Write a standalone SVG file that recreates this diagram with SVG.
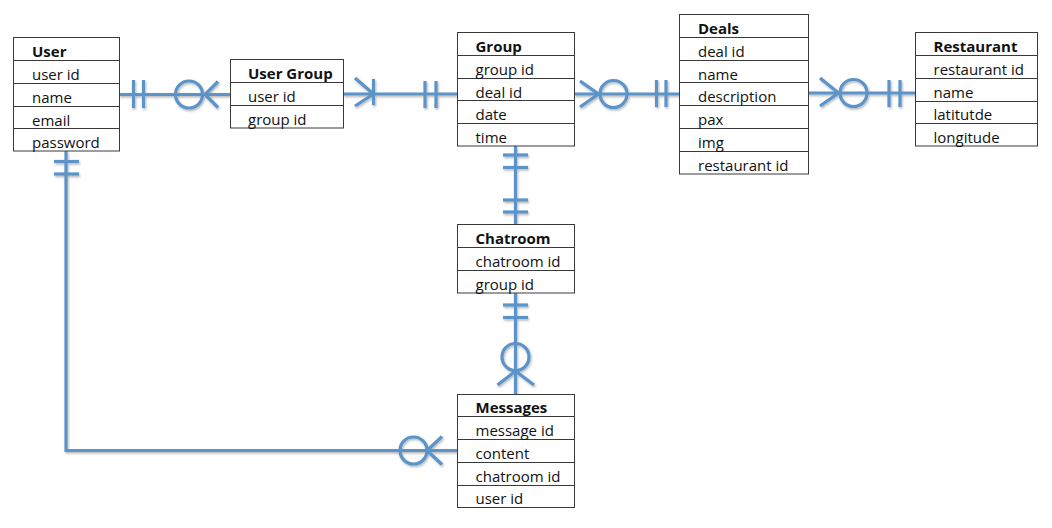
<svg xmlns="http://www.w3.org/2000/svg" width="1052" height="528" viewBox="0 0 1052 528">
<defs>
<style>
.tb rect{fill:#fff;stroke:#3a3a3a;stroke-width:1}
.tb line{stroke:#3a3a3a;stroke-width:1}
.tb text{font-family:"Open Sans","Liberation Sans",sans-serif;font-size:15px;fill:#111}
.tb text.h{font-weight:bold}
.cn line,.cn polyline,.cn circle{stroke:#5b94c9;stroke-width:3.2;fill:none;stroke-linecap:butt}
.cn circle{fill:none}
</style>
<filter id="sh" x="-10%" y="-10%" width="120%" height="120%">
<feDropShadow dx="1" dy="1.5" stdDeviation="1" flood-color="#000" flood-opacity="0.3"/>
</filter>
</defs>
<rect width="1052" height="528" fill="#fff"/>

<g id="connectors" class="cn" filter="url(#sh)">
<!-- User - User Group -->
<line x1="119" y1="94.5" x2="230" y2="94.5"/>
<line x1="133.5" y1="80" x2="133.5" y2="108"/>
<line x1="143.5" y1="80" x2="143.5" y2="108"/>
<circle cx="189" cy="94.5" r="13.5" fill="#fff"/>
<line x1="205" y1="94.5" x2="218" y2="81.5"/>
<line x1="205" y1="94.5" x2="218" y2="107.5"/>
<!-- User Group - Group -->
<line x1="343" y1="94" x2="457" y2="94"/>
<line x1="355" y1="78" x2="373.5" y2="94"/>
<line x1="355" y1="106" x2="373.5" y2="94"/>
<line x1="373.5" y1="79" x2="373.5" y2="105"/>
<line x1="425" y1="81" x2="425" y2="108"/>
<line x1="436" y1="81" x2="436" y2="108"/>
<!-- Group - Deals -->
<line x1="574" y1="94" x2="679" y2="94"/>
<line x1="580" y1="81" x2="598.5" y2="94"/>
<line x1="580" y1="107" x2="598.5" y2="94"/>
<circle cx="613.5" cy="94" r="13.5"/>
<line x1="656.5" y1="80" x2="656.5" y2="107"/>
<line x1="666" y1="80" x2="666" y2="107"/>
<!-- Deals - Restaurant -->
<line x1="808" y1="93" x2="915" y2="93"/>
<line x1="820" y1="78" x2="838.5" y2="93"/>
<line x1="820" y1="106" x2="838.5" y2="93"/>
<circle cx="853.5" cy="93" r="13.5"/>
<line x1="889" y1="80" x2="889" y2="107"/>
<line x1="900" y1="80" x2="900" y2="107"/>
<!-- Group - Chatroom -->
<line x1="515.5" y1="146" x2="515.5" y2="224.5"/>
<line x1="503" y1="155" x2="528" y2="155"/>
<line x1="503" y1="167.5" x2="528" y2="167.5"/>
<line x1="503" y1="200" x2="528" y2="200"/>
<line x1="503" y1="212" x2="528" y2="212"/>
<!-- Chatroom - Messages -->
<line x1="515.5" y1="293" x2="515.5" y2="394"/>
<line x1="503" y1="305" x2="528" y2="305"/>
<line x1="503" y1="317.5" x2="528" y2="317.5"/>
<circle cx="515.5" cy="357" r="13.5"/>
<line x1="515.5" y1="371" x2="497.5" y2="385"/>
<line x1="515.5" y1="371" x2="534" y2="385"/>
<!-- User - Messages -->
<polyline points="66,151 66,450.5 457,450.5"/>
<line x1="54" y1="161.5" x2="79" y2="161.5"/>
<line x1="54" y1="174" x2="79" y2="174"/>
<circle cx="413.5" cy="450.5" r="13.5"/>
<line x1="427" y1="450.5" x2="442" y2="436.5"/>
<line x1="427" y1="450.5" x2="442" y2="464.5"/>
</g>

<g id="user" class="tb">
<rect x="13.5" y="37.5" width="106" height="113.5"/>
<line x1="13.5" y1="60.5" x2="119.5" y2="60.5"/>
<line x1="13.5" y1="83.5" x2="119.5" y2="83.5"/>
<line x1="13.5" y1="106.5" x2="119.5" y2="106.5"/>
<line x1="13.5" y1="128.5" x2="119.5" y2="128.5"/>
<text class="h" x="32" y="57">User</text>
<text x="32" y="80">user id</text>
<text x="32" y="103">name</text>
<text x="32" y="125.5">email</text>
<text x="32" y="148">password</text>
</g>

<g id="user-group" class="tb">
<rect x="230.5" y="59.5" width="113" height="68.5"/>
<line x1="230.5" y1="82.5" x2="343.5" y2="82.5"/>
<line x1="230.5" y1="105.5" x2="343.5" y2="105.5"/>
<text class="h" x="248" y="79">User Group</text>
<text x="248" y="102">user id</text>
<text x="248" y="124.5">group id</text>
</g>

<g id="group" class="tb">
<rect x="457.5" y="32.5" width="117" height="113.5"/>
<line x1="457.5" y1="55.5" x2="574.5" y2="55.5"/>
<line x1="457.5" y1="78.5" x2="574.5" y2="78.5"/>
<line x1="457.5" y1="100.5" x2="574.5" y2="100.5"/>
<line x1="457.5" y1="123.5" x2="574.5" y2="123.5"/>
<text class="h" x="475.5" y="52">Group</text>
<text x="475.5" y="75">group id</text>
<text x="475.5" y="97.5">deal id</text>
<text x="475.5" y="120">date</text>
<text x="475.5" y="143">time</text>
</g>

<g id="deals" class="tb">
<rect x="679.5" y="14.5" width="129" height="159.5"/>
<line x1="679.5" y1="37.5" x2="808.5" y2="37.5"/>
<line x1="679.5" y1="60.5" x2="808.5" y2="60.5"/>
<line x1="679.5" y1="82.5" x2="808.5" y2="82.5"/>
<line x1="679.5" y1="105.5" x2="808.5" y2="105.5"/>
<line x1="679.5" y1="128.5" x2="808.5" y2="128.5"/>
<line x1="679.5" y1="151.5" x2="808.5" y2="151.5"/>
<text class="h" x="698" y="34">Deals</text>
<text x="698" y="57">deal id</text>
<text x="698" y="79.5">name</text>
<text x="698" y="102">description</text>
<text x="698" y="125">pax</text>
<text x="698" y="148">img</text>
<text x="698" y="170.5">restaurant id</text>
</g>

<g id="restaurant" class="tb">
<rect x="915.5" y="32.5" width="122" height="113.5"/>
<line x1="915.5" y1="55.5" x2="1037.5" y2="55.5"/>
<line x1="915.5" y1="78.5" x2="1037.5" y2="78.5"/>
<line x1="915.5" y1="101.5" x2="1037.5" y2="101.5"/>
<line x1="915.5" y1="123.5" x2="1037.5" y2="123.5"/>
<text class="h" x="933.5" y="52">Restaurant</text>
<text x="933.5" y="75">restaurant id</text>
<text x="933.5" y="97.5">name</text>
<text x="933.5" y="120">latitutde</text>
<text x="933.5" y="143">longitude</text>
</g>

<g id="chatroom" class="tb">
<rect x="457.5" y="224.5" width="117" height="68.5"/>
<line x1="457.5" y1="247.5" x2="574.5" y2="247.5"/>
<line x1="457.5" y1="270.5" x2="574.5" y2="270.5"/>
<text class="h" x="475.5" y="244">Chatroom</text>
<text x="475.5" y="267">chatroom id</text>
<text x="475.5" y="289.5">group id</text>
</g>

<g id="messages" class="tb">
<rect x="457.5" y="394.5" width="117" height="113"/>
<line x1="457.5" y1="416.5" x2="574.5" y2="416.5"/>
<line x1="457.5" y1="439.5" x2="574.5" y2="439.5"/>
<line x1="457.5" y1="462.5" x2="574.5" y2="462.5"/>
<line x1="457.5" y1="485.5" x2="574.5" y2="485.5"/>
<text class="h" x="475.5" y="413">Messages</text>
<text x="475.5" y="436">message id</text>
<text x="475.5" y="459">content</text>
<text x="475.5" y="481.5">chatroom id</text>
<text x="475.5" y="504">user id</text>
</g>
</svg>
